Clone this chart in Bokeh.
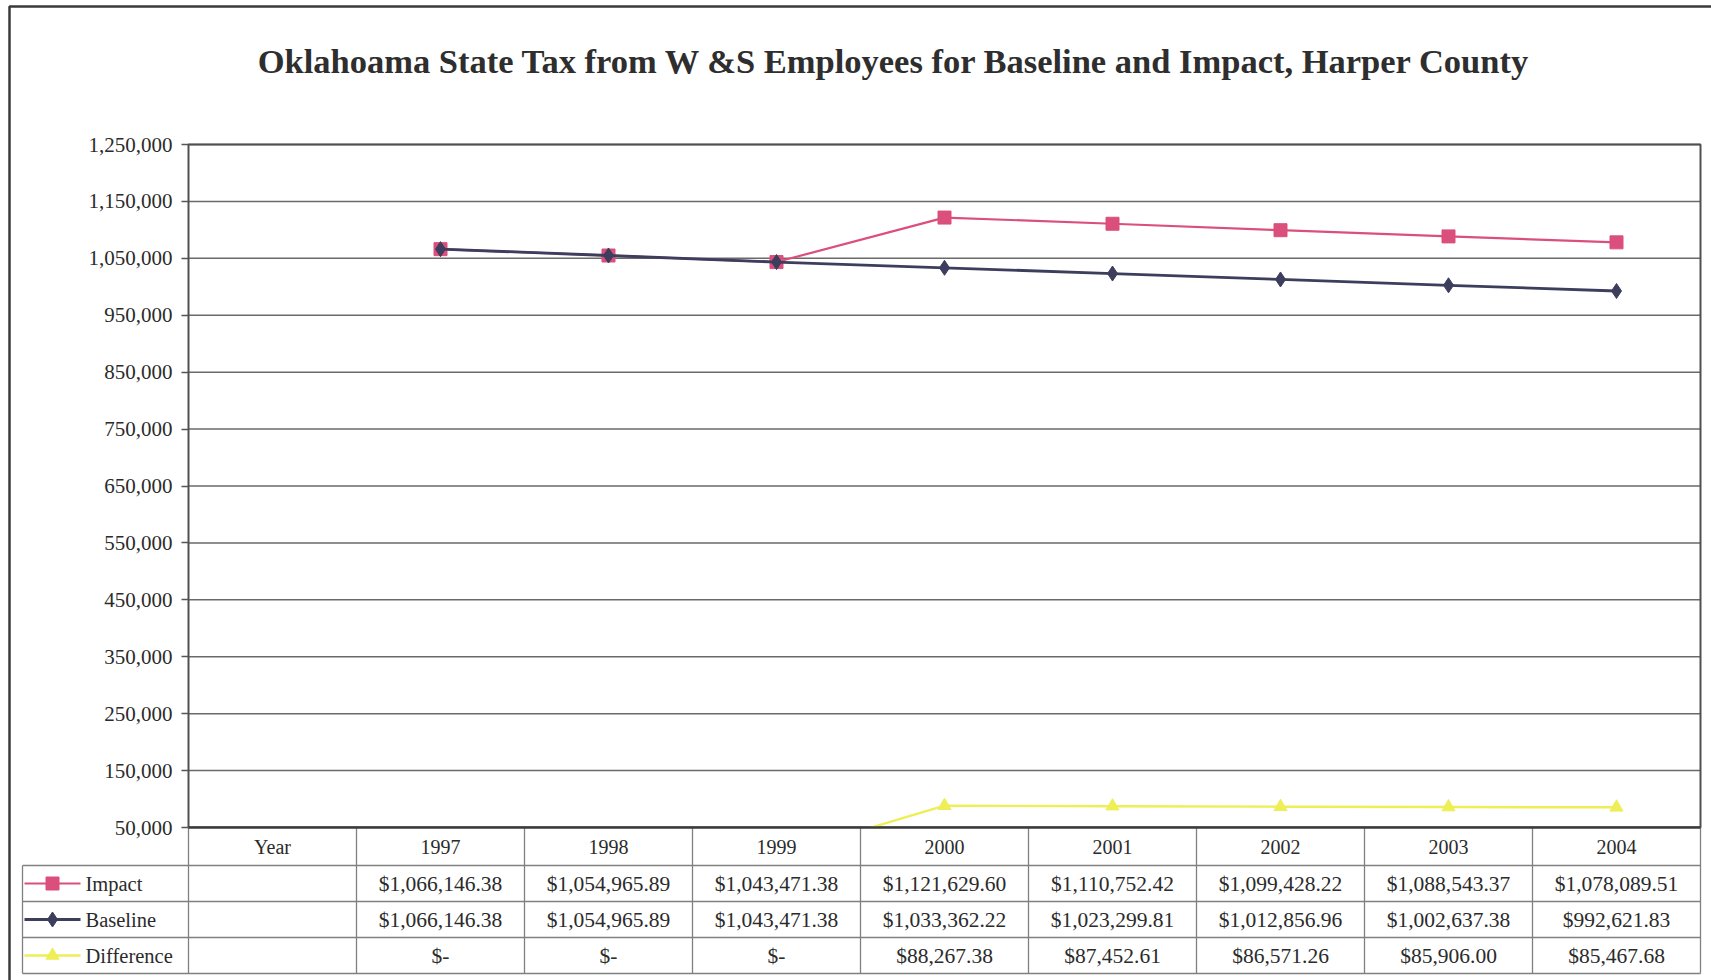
from bokeh.plotting import figure
from bokeh.models import Range1d, LinearAxis, FixedTicker, NumeralTickFormatter
from bokeh.core.properties import value
from bokeh.embed import file_html
from bokeh.resources import INLINE

# ---------------- data ----------------
title_text = "Oklahoama State Tax from W &S Employees for Baseline and Impact, Harper County"
header_label = "Year"
years = ["1997", "1998", "1999", "2000", "2001", "2002", "2003", "2004"]
impact = [1066146.38, 1054965.89, 1043471.38, 1121629.60, 1110752.42, 1099428.22, 1088543.37, 1078089.51]
baseline = [1066146.38, 1054965.89, 1043471.38, 1033362.22, 1023299.81, 1012856.96, 1002637.38, 992621.83]
difference = [0.0, 0.0, 0.0, 88267.38, 87452.61, 86571.26, 85906.00, 85467.68]
series_names = ["Impact", "Baseline", "Difference"]
y_ticks = [50000, 150000, 250000, 350000, 450000, 550000, 650000, 750000,
           850000, 950000, 1050000, 1150000, 1250000]

# ---------------- layout (pixels) ----------------
W, H = 1711, 980
L, R, T, B = 188, 1700, 144, 827          # plot area
n_cols = len(years) + 1                    # "Year" column + years
CW = (R - L) / n_cols
y_lo, y_hi = y_ticks[0], y_ticks[-1]
ppu = (B - T) / (y_hi - y_lo)

row_edges = [B, 865, 901, 937, 973]        # table row boundaries (px from top)
row_centers = [(row_edges[i] + row_edges[i + 1]) / 2 for i in range(4)]
legend_left = 22

colors = {"Impact": "#DB4F7C", "Baseline": "#3D3D5E", "Difference": "#EEEE55"}
markers = {"Impact": "square", "Baseline": "diamond", "Difference": "triangle"}
msize = {"Impact": 13, "Baseline": 15, "Difference": 13}
lwidth = {"Impact": 2.2, "Baseline": 2.8, "Difference": 2.4}
serif = "Liberation Serif"
text_col = "#2b2b2b"

x_range = Range1d(-L / CW, (W - L) / CW)
y_range = Range1d(y_lo - (H - B) / ppu, y_lo + B / ppu)

p = figure(width=W, height=H, x_range=x_range, y_range=y_range,
           x_axis_type=None, y_axis_type=None, toolbar_location=None,
           output_backend="svg", min_border=0)
p.extra_x_ranges = {"px": Range1d(0, W)}
p.extra_y_ranges = {"px": Range1d(H, 0)}
p.outline_line_color = None
p.background_fill_color = "white"
p.border_fill_color = "white"

PX = dict(x_range_name="px", y_range_name="px")
PY = dict(y_range_name="px")

# outer border
p.quad(left=[9], right=[W + 10], top=[6], bottom=[H + 10], fill_color=None,
       line_color="#3a3a3a", line_width=2.5, **PX)

# y axis (library axis, fixed at plot-area left edge)
yax = LinearAxis(fixed_location=0, ticker=FixedTicker(ticks=y_ticks),
                 formatter=NumeralTickFormatter(format="0,0"))
yax.axis_line_color = None
yax.major_tick_out = 7
yax.major_tick_in = 0
yax.major_tick_line_color = "#555555"
yax.major_tick_line_width = 1.5
yax.minor_tick_line_color = None
yax.major_label_text_font = serif
yax.major_label_text_font_size = "21px"
yax.major_label_text_color = text_col
yax.major_label_standoff = 9
p.add_layout(yax, "left")

# gridlines
grid_y = y_ticks[1:]
p.segment(x0=[0] * len(grid_y), x1=[n_cols] * len(grid_y), y0=grid_y, y1=grid_y,
          line_color="#6a6a6a", line_width=1.5)

# plot area border
p.quad(left=[0], right=[n_cols], top=[y_hi], bottom=[y_lo], fill_color=None,
       line_color="#505050", line_width=2)

# series
xs = [i + 1.5 for i in range(len(years))]
series_vals = {"Difference": difference, "Impact": impact, "Baseline": baseline}
for name in ["Difference", "Impact", "Baseline"]:
    p.line(xs, series_vals[name], line_color=colors[name], line_width=lwidth[name])
    p.scatter(xs, series_vals[name], marker=markers[name], size=msize[name],
              fill_color=colors[name], line_color=colors[name])

# table background hides the part of the chart below the axis minimum
p.quad(left=[0], right=[n_cols], top=[y_lo], bottom=[y_range.start],
       fill_color="white", line_color=None)

# table grid
p.segment(x0=[legend_left] * 4, x1=[R] * 4, y0=row_edges[1:], y1=row_edges[1:],
          line_color="#808080", line_width=1.3, **PX)
p.segment(x0=[legend_left], x1=[legend_left], y0=[row_edges[1]], y1=[row_edges[-1]],
          line_color="#808080", line_width=1.3, **PX)
vx = list(range(n_cols + 1))
p.segment(x0=vx, x1=vx, y0=[row_edges[0]] * len(vx), y1=[row_edges[-1]] * len(vx),
          line_color="#808080", line_width=1.3, **PY)
# category axis line at the bottom of the plot area
p.segment(x0=[0], x1=[n_cols], y0=[y_lo], y1=[y_lo], line_color="#3a3a3a", line_width=2.5)


def money(v):
    return "$-" if v == 0 else "${:,.2f}".format(v)


# header row
p.text(x=[0.5] + xs, y=[row_centers[0]] * (len(years) + 1), text=[header_label] + years,
       text_font=value(serif), text_font_size="20px", text_color=text_col,
       text_align="center", text_baseline="middle", **PY)

# data rows
for r, name in enumerate(series_names):
    yc = row_centers[r + 1]
    vals = series_vals[name]
    p.text(x=xs, y=[yc] * len(xs), text=[money(v) for v in vals],
           text_font=value(serif), text_font_size="21.5px", text_color=text_col,
           text_align="center", text_baseline="middle", **PY)
    # legend key
    p.segment(x0=[legend_left + 2], x1=[80], y0=[yc], y1=[yc],
              line_color=colors[name], line_width=lwidth[name], **PX)
    p.scatter([52], [yc], marker=markers[name], size=msize[name],
              fill_color=colors[name], line_color=colors[name], **PX)
    p.text(x=[85], y=[yc], text=[name], text_font=value(serif), text_font_size="20.5px",
           text_color=text_col, text_align="left", text_baseline="middle", **PX)

# title
p.text(x=[894], y=[60], text=[title_text], text_font=value(serif),
       text_font_size="34.5px", text_font_style="bold", text_color="#2e2e2e",
       text_align="center", text_baseline="middle", **PX)

open("out.html", "w").write(file_html(p, INLINE))
